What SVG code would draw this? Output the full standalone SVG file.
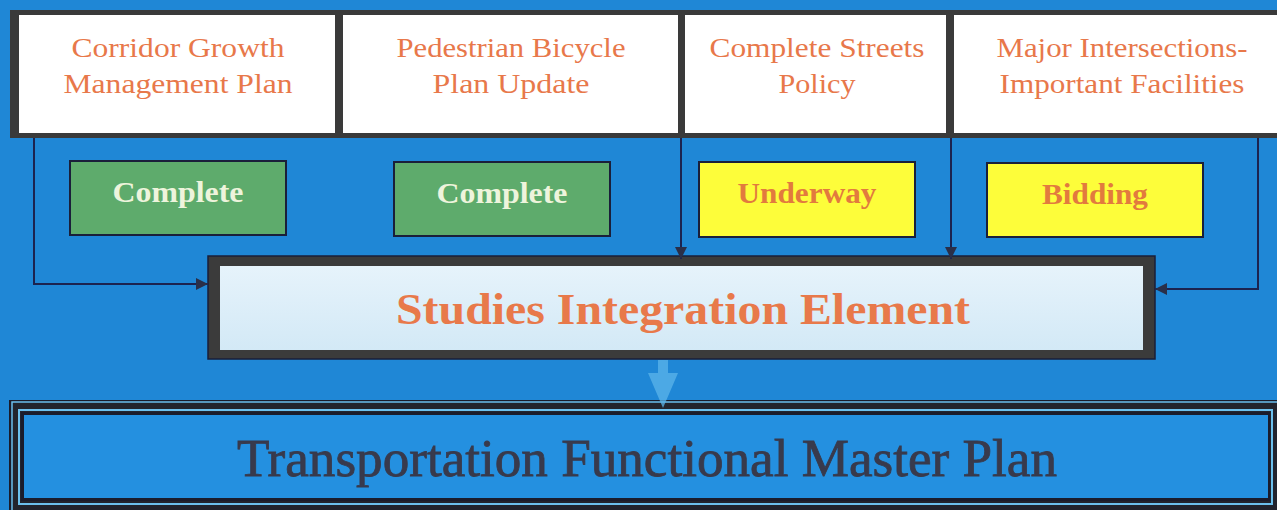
<svg xmlns="http://www.w3.org/2000/svg" width="1277" height="510" viewBox="0 0 1277 510">
<style>
.top{font-family:"Liberation Serif",serif;font-size:28px;fill:#e8784a;text-anchor:middle}
.stat{font-family:"Liberation Serif",serif;font-size:30px;font-weight:bold;text-anchor:middle}
.conn{fill:none;stroke:#1c2350;stroke-width:2}
</style>
<defs>
<marker id="ah" viewBox="0 0 12 12" refX="12" refY="6" markerWidth="12" markerHeight="12" markerUnits="userSpaceOnUse" orient="auto">
<path d="M0,0 L12,6 L0,12 z" fill="#2a2f48"/>
</marker>
<linearGradient id="sieg" x1="0" y1="0" x2="0" y2="1">
<stop offset="0" stop-color="#e6f3fb"/>
<stop offset="1" stop-color="#d3e9f6"/>
</linearGradient>
</defs>
<rect width="1277" height="510" fill="#1f87d6"/>

<g id="topband">
<rect x="10" y="10" width="1270" height="128" fill="#3a3a3a"/>
</g>
<g id="n-corridor">
<rect x="19" y="15" width="316" height="118" fill="#ffffff"/>
<text class="top" x="178" y="57" textLength="213" lengthAdjust="spacingAndGlyphs">Corridor Growth</text>
<text class="top" x="178" y="93" textLength="229" lengthAdjust="spacingAndGlyphs">Management Plan</text>
</g>
<g id="n-pedbike">
<rect x="343" y="15" width="335" height="118" fill="#ffffff"/>
<text class="top" x="511" y="57" textLength="229" lengthAdjust="spacingAndGlyphs">Pedestrian Bicycle</text>
<text class="top" x="511" y="93" textLength="157" lengthAdjust="spacingAndGlyphs">Plan Update</text>
</g>
<g id="n-streets">
<rect x="685" y="15" width="261" height="118" fill="#ffffff"/>
<text class="top" x="817" y="57" textLength="215" lengthAdjust="spacingAndGlyphs">Complete Streets</text>
<text class="top" x="817" y="93" textLength="77" lengthAdjust="spacingAndGlyphs">Policy</text>
</g>
<g id="n-major">
<rect x="954" y="15" width="323" height="118" fill="#ffffff"/>
<text class="top" x="1122" y="57" textLength="251" lengthAdjust="spacingAndGlyphs">Major Intersections-</text>
<text class="top" x="1122" y="93" textLength="245" lengthAdjust="spacingAndGlyphs">Important Facilities</text>
</g>

<g id="n-status1">
<rect x="70" y="161" width="216" height="74" fill="#5eab6c" stroke="#1a1f3a" stroke-width="2"/>
<text class="stat" x="178" y="202" fill="#eef4dc" textLength="131" lengthAdjust="spacingAndGlyphs">Complete</text>
</g>
<g id="n-status2">
<rect x="394" y="162" width="216" height="74" fill="#5eab6c" stroke="#1a1f3a" stroke-width="2"/>
<text class="stat" x="502" y="203" fill="#eef4dc" textLength="131" lengthAdjust="spacingAndGlyphs">Complete</text>
</g>
<g id="n-status3">
<rect x="699" y="162" width="216" height="75" fill="#fdfd3a" stroke="#1a1f3a" stroke-width="2"/>
<text class="stat" x="807" y="203" fill="#e27a3e" textLength="139" lengthAdjust="spacingAndGlyphs">Underway</text>
</g>
<g id="n-status4">
<rect x="987" y="163" width="216" height="74" fill="#fdfd3a" stroke="#1a1f3a" stroke-width="2"/>
<text class="stat" x="1095" y="204" fill="#e27a3e" textLength="106" lengthAdjust="spacingAndGlyphs">Bidding</text>
</g>

<g id="n-sie">
<rect x="208" y="256" width="947" height="103" fill="#3b3b3b" stroke="#1a1f3a" stroke-width="1.5"/>
<rect x="220" y="266" width="923" height="84" fill="url(#sieg)"/>
<text x="683" y="324" font-family="'Liberation Serif',serif" font-size="44" font-weight="bold" fill="#e8794a" text-anchor="middle" textLength="574" lengthAdjust="spacingAndGlyphs">Studies Integration Element</text>
</g>

<g id="n-tfmp">
<rect x="9" y="400" width="1272" height="114" fill="#1a1c2c"/>
<rect x="12" y="402" width="1268" height="110" fill="none" stroke="#6cc0ee" stroke-width="1.5"/>
<rect x="13" y="403" width="1266" height="108" fill="#22242e"/>
<rect x="19" y="410" width="1253" height="94" fill="none" stroke="#6cc0ee" stroke-width="2"/>
<rect x="21" y="412" width="1249" height="89" fill="#1a1c2c"/>
<rect x="24" y="415" width="1244" height="83" fill="#2490e0"/>
<text x="647" y="476" font-family="'Liberation Serif',serif" font-size="52" fill="#383a4c" stroke="#383a4c" stroke-width="0.8" text-anchor="middle" textLength="820" lengthAdjust="spacingAndGlyphs">Transportation Functional Master Plan</text>
</g>

<g id="connectors">
<polyline class="conn" points="34,138 34,284 208,284" marker-end="url(#ah)"/>
<line class="conn" x1="681" y1="138" x2="681" y2="259" marker-end="url(#ah)"/>
<line class="conn" x1="951" y1="138" x2="951" y2="259" marker-end="url(#ah)"/>
<polyline class="conn" points="1258,138 1258,289 1155,289" marker-end="url(#ah)"/>
<path d="M658,360 L668,360 L668,373 L678,373 L663,408 L648,373 L658,373 Z" fill="#5cb4ea" fill-opacity="0.75"/>
</g>
</svg>
